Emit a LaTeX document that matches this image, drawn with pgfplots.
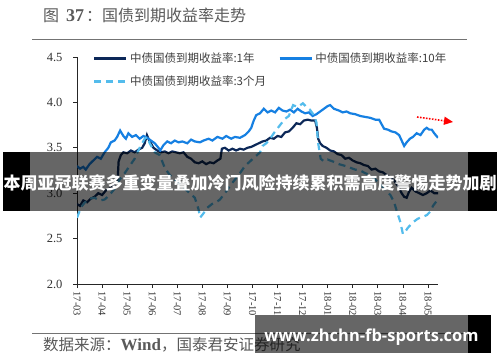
\documentclass[border=0pt]{standalone}
\usepackage{fontspec}
\usepackage{pgfplots}
\pgfplotsset{compat=1.18}
\usetikzlibrary{arrows.meta}
\setmainfont{Liberation Serif}
\newfontfamily\cjk{Noto Sans CJK SC}
\newfontfamily\wmfont{Open Sans}
\definecolor{c1y}{RGB}{12,40,88}
\definecolor{c10y}{RGB}{22,128,226}
\definecolor{c3m}{RGB}{84,188,236}
\definecolor{txtgray}{RGB}{90,90,90}
\begin{document}
\begin{tikzpicture}[x=1pt,y=1pt]
\useasboundingbox (0,0) rectangle (500,362);
\fill[white] (0,0) rectangle (500,362);
% title
\node[anchor=west, inner sep=0pt, text=txtgray] at (43,347) {\cjk\fontsize{16}{16}\selectfont 图\hspace{7pt}{\rmfamily\bfseries\fontsize{18}{18}\selectfont 37}\hspace{2pt}：国债到期收益率走势};
\draw[black!55, line width=1pt] (32,322.5) -- (467,322.5);
\draw[black!55, line width=1pt] (32,29) -- (467,29);
\node[anchor=west, inner sep=0pt, text=txtgray] at (43,17) {\cjk\fontsize{15.5}{16}\selectfont 数据来源：{\rmfamily\bfseries\fontsize{17}{17}\selectfont Wind}，国泰君安证券研究};
\begin{axis}[
  at={(77pt,78pt)}, anchor=south west,
  scale only axis, width=361pt, height=227pt,
  xmin=0, xmax=14.4, ymin=2, ymax=4.5,
  axis lines=left, axis line style={-, black!85, line width=0.8pt},
  tick align=outside, major tick length=4pt,
  tick style={black!85, line width=0.7pt},
  xtick={0,...,14},
  xticklabels={17-03,17-04,17-05,17-06,17-07,17-08,17-09,17-10,17-11,17-12,18-01,18-02,18-03,18-04,18-05},
  xticklabel style={rotate=-90, anchor=west, font=\fontsize{10.5}{10.5}\selectfont, text=black!80},
  ytick={2,2.5,3,3.5,4,4.5},
  yticklabel style={/pgf/number format/.cd, fixed, fixed zerofill, precision=1, /tikz/.cd, font=\fontsize{12.5}{12.5}\selectfont, xshift=-7pt, text=black!80},
  /pgf/number format/assume math mode=true,
  legend columns=2,
  legend cell align=left,
  legend style={draw=none, fill=none, at={(0.035,1.035)}, anchor=north west,
    font=\cjk\fontsize{11.5}{12}\selectfont, text=black!75,
    /tikz/every even column/.append style={column sep=10pt},
    row sep=7pt},
  legend image code/.code={\draw[#1, line width=3.2pt] (0pt,0pt) -- (32pt,0pt);},
]
\addplot[c1y, line width=2.2pt] coordinates {
(0.00,2.88)(0.12,2.86)(0.25,2.92)(0.40,2.90)(0.55,2.94)(0.70,2.96)(0.85,3.00)(1.00,2.98)(1.15,3.03)(1.30,3.05)(1.45,3.08)(1.55,3.12)(1.62,3.14)(1.66,3.35)(1.75,3.42)(1.85,3.45)(2.00,3.44)(2.15,3.47)(2.30,3.45)(2.45,3.48)(2.60,3.50)(2.70,3.55)(2.79,3.64)(2.85,3.60)(2.95,3.55)(3.05,3.50)(3.20,3.47)(3.35,3.45)(3.50,3.46)(3.65,3.44)(3.80,3.46)(3.95,3.45)(4.10,3.44)(4.25,3.45)(4.40,3.40)(4.55,3.38)(4.70,3.34)(4.85,3.33)(5.00,3.35)(5.15,3.32)(5.30,3.34)(5.45,3.33)(5.60,3.36)(5.72,3.38)(5.78,3.49)(5.90,3.50)(6.05,3.47)(6.20,3.49)(6.35,3.47)(6.50,3.49)(6.65,3.48)(6.80,3.50)(6.95,3.51)(7.10,3.53)(7.25,3.55)(7.40,3.57)(7.55,3.58)(7.70,3.61)(7.85,3.60)(8.00,3.63)(8.15,3.62)(8.30,3.67)(8.45,3.68)(8.60,3.72)(8.75,3.77)(8.90,3.76)(9.05,3.80)(9.20,3.81)(9.35,3.80)(9.50,3.80)(9.57,3.72)(9.62,3.60)(9.70,3.55)(9.80,3.52)(9.95,3.50)(10.10,3.47)(10.25,3.46)(10.40,3.43)(10.55,3.42)(10.70,3.38)(10.85,3.39)(11.00,3.36)(11.15,3.34)(11.30,3.33)(11.45,3.31)(11.60,3.30)(11.75,3.26)(11.90,3.27)(12.05,3.24)(12.20,3.23)(12.35,3.20)(12.50,3.17)(12.65,3.14)(12.80,3.08)(12.95,3.00)(13.05,2.96)(13.15,2.95)(13.25,3.02)(13.35,3.06)(13.50,3.02)(13.65,3.00)(13.80,2.98)(13.95,3.00)(14.10,3.03)(14.25,3.00)(14.40,3.00)
};
\addlegendentry{中债国债到期收益率:1年}
\addplot[c10y, line width=2.2pt] coordinates {
(0.00,3.30)(0.12,3.27)(0.25,3.29)(0.35,3.26)(0.50,3.32)(0.65,3.36)(0.80,3.40)(0.95,3.38)(1.10,3.45)(1.25,3.50)(1.35,3.56)(1.50,3.58)(1.60,3.62)(1.72,3.69)(1.85,3.63)(1.95,3.60)(2.05,3.66)(2.20,3.62)(2.35,3.64)(2.50,3.60)(2.65,3.63)(2.80,3.61)(2.95,3.58)(3.10,3.55)(3.25,3.50)(3.32,3.47)(3.45,3.53)(3.60,3.57)(3.75,3.55)(3.90,3.58)(4.05,3.56)(4.20,3.57)(4.40,3.55)(4.55,3.59)(4.70,3.57)(4.90,3.56)(5.05,3.58)(5.25,3.60)(5.40,3.58)(5.60,3.62)(5.80,3.60)(5.95,3.63)(6.15,3.60)(6.30,3.62)(6.50,3.61)(6.70,3.64)(6.85,3.68)(6.95,3.72)(7.05,3.80)(7.15,3.86)(7.30,3.88)(7.45,3.93)(7.60,3.89)(7.75,3.91)(7.90,3.89)(8.05,3.94)(8.20,3.91)(8.35,3.90)(8.50,3.92)(8.65,3.89)(8.80,3.93)(8.95,3.90)(9.10,3.88)(9.25,3.89)(9.40,3.85)(9.55,3.87)(9.70,3.90)(9.85,3.93)(10.00,3.96)(10.10,3.97)(10.25,3.93)(10.45,3.91)(10.60,3.89)(10.75,3.90)(10.90,3.88)(11.10,3.87)(11.30,3.85)(11.50,3.84)(11.70,3.83)(11.90,3.81)(12.05,3.81)(12.15,3.76)(12.25,3.71)(12.40,3.70)(12.55,3.68)(12.70,3.67)(12.85,3.64)(12.95,3.58)(13.05,3.52)(13.15,3.56)(13.28,3.60)(13.40,3.62)(13.55,3.66)(13.70,3.64)(13.85,3.70)(13.95,3.72)(14.05,3.70)(14.15,3.70)(14.25,3.66)(14.40,3.61)
};
\addlegendentry{中债国债到期收益率:10年}
\addplot[c3m, line width=2.2pt, dash pattern=on 7pt off 5pt] coordinates {
(0.00,2.73)(0.10,2.80)(0.20,2.86)(0.32,2.90)(0.50,2.94)(0.70,2.95)(0.90,2.92)(1.10,2.93)(1.30,2.98)(1.50,3.05)(1.70,3.15)(1.90,3.22)(2.10,3.30)(2.30,3.38)(2.50,3.50)(2.70,3.60)(2.80,3.62)(2.90,3.55)(3.10,3.45)(3.30,3.42)(3.50,3.28)(3.70,3.20)(3.90,3.15)(4.10,3.10)(4.30,3.05)(4.50,3.00)(4.70,2.95)(4.85,2.82)(4.91,2.73)(5.05,2.78)(5.20,2.84)(5.38,2.88)(5.55,2.90)(5.70,2.93)(5.90,3.00)(6.10,3.08)(6.30,3.15)(6.50,3.22)(6.70,3.30)(6.90,3.35)(7.10,3.40)(7.30,3.45)(7.40,3.52)(7.55,3.55)(7.70,3.60)(7.90,3.68)(8.10,3.75)(8.30,3.82)(8.45,3.85)(8.62,3.97)(8.80,3.95)(9.01,3.99)(9.15,3.95)(9.29,3.92)(9.45,3.86)(9.55,3.78)(9.62,3.55)(9.72,3.38)(9.85,3.35)(10.00,3.37)(10.20,3.35)(10.45,3.32)(10.70,3.30)(10.90,3.28)(11.10,3.26)(11.30,3.25)(11.50,3.22)(11.70,3.20)(11.90,3.15)(12.10,3.10)(12.30,3.04)(12.50,2.98)(12.65,2.90)(12.76,2.80)(12.90,2.68)(13.00,2.55)(13.10,2.58)(13.20,2.62)(13.40,2.68)(13.60,2.72)(13.80,2.74)(13.96,2.76)(14.10,2.80)(14.20,2.86)(14.36,2.92)
};
\addlegendentry{中债国债到期收益率:3个月}
\end{axis}
% red dotted arrow annotation
\draw[red, line width=1.6pt, dash pattern=on 1.6pt off 1.4pt, -{Triangle[length=9pt,width=8pt]}] (417,245) -- (453,240);
% banner
\fill[black] (3,151) rectangle (30,210);
\fill[black, opacity=0.6] (30,151) rectangle (468,210);
\fill[black] (468,151) rectangle (497,210);
\node[text=white, inner sep=0pt] at (250,179) {\cjk\bfseries\fontsize{17}{17}\selectfont 本周亚冠联赛多重变量叠加冷门风险持续累积需高度警惕走势加剧};
% watermark
\fill[black, opacity=0.6] (255,9) rectangle (468,47);
\fill[black] (468,9) rectangle (491,47);
\node[text=white, inner sep=0pt] at (371.5,25) {\wmfont\bfseries\fontsize{16.5}{16.5}\selectfont www.zhchn-fb-sports.com};
\end{tikzpicture}
\end{document}
